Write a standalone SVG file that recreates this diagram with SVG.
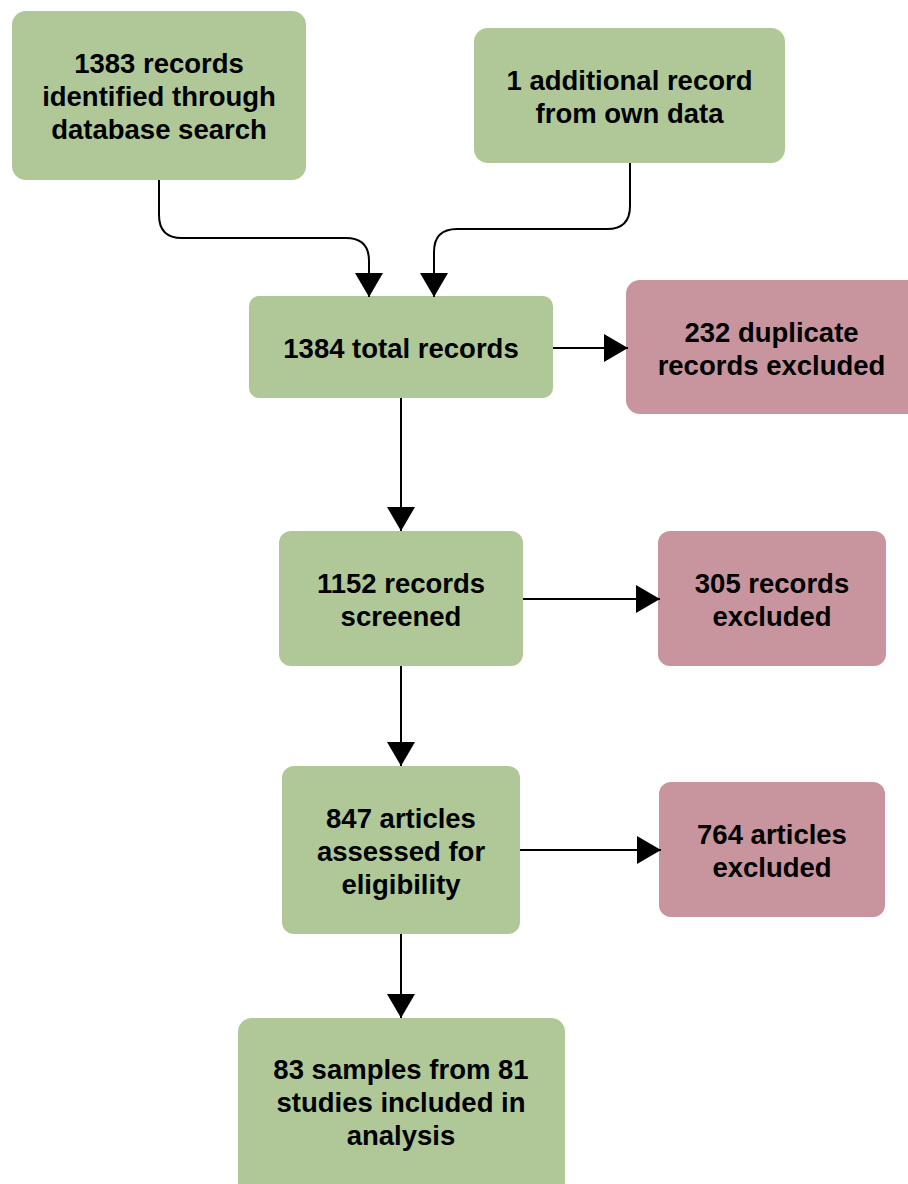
<svg xmlns="http://www.w3.org/2000/svg" width="908" height="1184" viewBox="0 0 908 1184">
<style>
.g{fill:#b0c898}
.p{fill:#c8949e}
text{font-family:"Liberation Sans",Arial,sans-serif;font-weight:bold;font-size:27.5px;fill:#000;text-anchor:middle}
.c{fill:none;stroke:#000;stroke-width:2}
</style>
<defs>
<marker id="ah" viewBox="0 0 24 28" refX="24" refY="14" markerWidth="24" markerHeight="28" markerUnits="userSpaceOnUse" orient="auto">
<path d="M0,0 L24,14 L0,28 Z" fill="#000"/>
</marker>
</defs>
<g id="n1"><rect class="g" x="12" y="11" width="294" height="169" rx="14"/>
<text x="159" y="73">1383 records</text><text x="159" y="106">identified through</text><text x="159" y="139">database search</text></g>
<g id="n2"><rect class="g" x="474" y="28" width="311" height="135" rx="14"/>
<text x="629.5" y="90">1 additional record</text><text x="629.5" y="123">from own data</text></g>
<g id="n3"><rect class="g" x="249" y="296" width="304" height="102" rx="10"/>
<text x="401" y="358">1384 total records</text></g>
<g id="n4"><rect class="p" x="626" y="280" width="296" height="134" rx="14"/>
<text x="771.5" y="342">232 duplicate</text><text x="771.5" y="375">records excluded</text></g>
<g id="n5"><rect class="g" x="279" y="531" width="244" height="135" rx="12"/>
<text x="401" y="593">1152 records</text><text x="401" y="626">screened</text></g>
<g id="n6"><rect class="p" x="658" y="531" width="228" height="135" rx="12"/>
<text x="772" y="593">305 records</text><text x="772" y="626">excluded</text></g>
<g id="n7"><rect class="g" x="282" y="766" width="238" height="168" rx="12"/>
<text x="401" y="828">847 articles</text><text x="401" y="861">assessed for</text><text x="401" y="894">eligibility</text></g>
<g id="n8"><rect class="p" x="659" y="782" width="226" height="135" rx="12"/>
<text x="772" y="844">764 articles</text><text x="772" y="877">excluded</text></g>
<g id="n9"><rect class="g" x="238" y="1018" width="327" height="180" rx="14"/>
<text x="401" y="1079">83 samples from 81</text><text x="401" y="1112">studies included in</text><text x="401" y="1145">analysis</text></g>
<g id="connectors">
<path class="c" d="M159,180 V215 Q159,238 182,238 H346 Q369,238 369,261 V297" marker-end="url(#ah)"/>
<path class="c" d="M630,163 V206 Q630,229 607,229 H457 Q434,229 434,252 V297" marker-end="url(#ah)"/>
<path class="c" d="M553,348 H628" marker-end="url(#ah)"/>
<path class="c" d="M401,398 V531" marker-end="url(#ah)"/>
<path class="c" d="M523,599 H660" marker-end="url(#ah)"/>
<path class="c" d="M401,666 V766" marker-end="url(#ah)"/>
<path class="c" d="M520,850 H661" marker-end="url(#ah)"/>
<path class="c" d="M401,934 V1018" marker-end="url(#ah)"/>
</g>
</svg>
